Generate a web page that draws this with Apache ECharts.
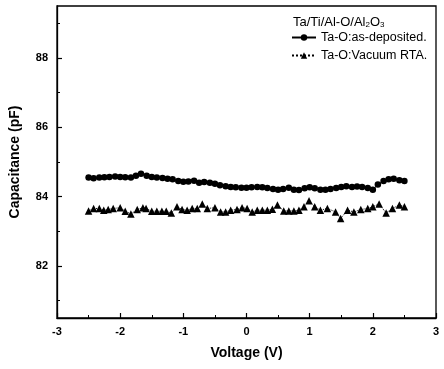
<!DOCTYPE html>
<html>
<head>
<meta charset="utf-8">
<script src="https://cdn.jsdelivr.net/npm/echarts@6/dist/echarts.min.js"></script>
<style>html,body{margin:0;padding:0;background:#fff}#c{width:444px;height:369px}</style>
</head>
<body>
<div id="c"></div>
<script>
const seriesNames = ['Ta-O:as-deposited.', 'Ta-O:Vacuum RTA.'];
const voltDep = [-2.5,-2.42,-2.33,-2.25,-2.17,-2.08,-2.0,-1.92,-1.83,-1.75,-1.67,-1.58,-1.5,-1.42,-1.33,-1.25,-1.17,-1.08,-1.0,-0.92,-0.83,-0.75,-0.67,-0.58,-0.5,-0.42,-0.33,-0.25,-0.17,-0.08,0.0,0.08,0.17,0.25,0.33,0.42,0.5,0.58,0.67,0.75,0.83,0.92,1.0,1.08,1.17,1.25,1.33,1.42,1.5,1.58,1.67,1.75,1.83,1.92,2.0,2.08,2.17,2.25,2.33,2.42,2.5];
const capDep = [84.55,84.53,84.55,84.56,84.57,84.58,84.57,84.56,84.55,84.60,84.66,84.60,84.57,84.55,84.54,84.52,84.50,84.45,84.43,84.44,84.46,84.40,84.42,84.40,84.37,84.33,84.30,84.28,84.27,84.26,84.26,84.27,84.28,84.27,84.25,84.22,84.20,84.22,84.26,84.20,84.19,84.24,84.27,84.24,84.20,84.20,84.22,84.25,84.28,84.30,84.28,84.29,84.28,84.25,84.20,84.35,84.45,84.50,84.52,84.47,84.45];
const voltRTA = [-2.5,-2.42,-2.33,-2.26,-2.19,-2.11,-2.0,-1.92,-1.83,-1.73,-1.64,-1.59,-1.5,-1.42,-1.34,-1.27,-1.19,-1.1,-1.02,-0.94,-0.86,-0.78,-0.7,-0.62,-0.5,-0.41,-0.33,-0.25,-0.15,-0.07,0.01,0.09,0.17,0.25,0.33,0.41,0.49,0.59,0.67,0.75,0.83,0.91,0.99,1.08,1.17,1.28,1.41,1.49,1.6,1.7,1.81,1.92,2.0,2.1,2.21,2.31,2.42,2.5];
const capRTA = [83.59,83.66,83.66,83.61,83.63,83.66,83.68,83.58,83.50,83.63,83.68,83.66,83.58,83.58,83.58,83.58,83.53,83.71,83.63,83.61,83.66,83.66,83.79,83.66,83.68,83.56,83.56,83.61,83.63,83.68,83.66,83.56,83.61,83.61,83.61,83.64,83.76,83.59,83.59,83.59,83.61,83.71,83.88,83.71,83.61,83.66,83.56,83.37,83.61,83.56,83.63,83.66,83.71,83.79,83.53,83.66,83.76,83.71];
const xTicks = [-3,-2,-1,0,1,2,3];
const yMajor = [82,84,86,88];
const yMinor = [81,83,85,87,89];

const zip = (a,b) => a.map((v,i)=>[v,b[i]]);
const font = '"Liberation Sans", Arial, sans-serif';
const chart = echarts.init(document.getElementById('c'), null, {renderer:'canvas'});
chart.setOption({
  animation:false,
  backgroundColor:'#fff',
  grid:{left:57,right:8,top:6,bottom:51,show:true,borderColor:'#000',borderWidth:1.3,backgroundColor:'transparent'},
  title:{
    text:'Ta/Ti/Al-O/Al{s|2}O{s|3}',
    left:288, top:10,
    textStyle:{fontFamily:font,fontSize:13,fontWeight:'normal',color:'#000',
      rich:{s:{fontFamily:font,fontSize:8,verticalAlign:'bottom',padding:[6,0,0,0],color:'#000'}}}
  },
  legend:{
    orient:'vertical', left:286, top:26, itemWidth:24, itemHeight:8, itemGap:5,
    textStyle:{fontFamily:font,fontSize:12.5,color:'#000'},
    data:seriesNames
  },
  xAxis:[{
    type:'value', min:xTicks[0], max:xTicks[xTicks.length-1], interval:1,
    name:'Voltage (V)', nameLocation:'middle', nameGap:28,
    nameTextStyle:{fontFamily:font,fontSize:14,fontWeight:'bold',color:'#000'},
    axisLine:{onZero:false,lineStyle:{color:'#000',width:1.3}},
    axisTick:{inside:true,length:5,lineStyle:{color:'#000',width:1.2}},
    minorTick:{show:true,splitNumber:2,length:3,lineStyle:{color:'#000',width:1}},
    axisLabel:{margin:8,fontFamily:font,fontSize:11,fontWeight:'bold',color:'#000'},
    splitLine:{show:false}
  }],
  yAxis:[{
    type:'value', min:80.5, max:89.5,
    name:'Capacitance (pF)', nameLocation:'middle', nameGap:35,
    nameTextStyle:{fontFamily:font,fontSize:14,fontWeight:'bold',color:'#000'},
    axisLine:{onZero:false,lineStyle:{color:'#000',width:1.3}},
    axisTick:{inside:true,length:5,customValues:yMajor,lineStyle:{color:'#000',width:1.2}},
    axisLabel:{customValues:yMajor,margin:9,fontFamily:font,fontSize:11,fontWeight:'bold',color:'#000'},
    splitLine:{show:false}
  },{
    type:'value', min:80.5, max:89.5, position:'left',
    axisLine:{show:false,onZero:false},
    axisTick:{inside:true,length:3,customValues:yMinor,lineStyle:{color:'#000',width:1}},
    axisLabel:{show:false},
    splitLine:{show:false}
  }],
  series:[{
    name:seriesNames[0], type:'line', data:zip(voltDep,capDep),
    symbol:'circle', symbolSize:6.5, showSymbol:true,
    lineStyle:{color:'#000',width:1}, itemStyle:{color:'#000'}
  },{
    name:seriesNames[1], type:'line', data:zip(voltRTA,capRTA),
    symbol:'triangle', symbolSize:7.5, showSymbol:true,
    lineStyle:{color:'#000',width:1,type:'dotted'}, itemStyle:{color:'#000'}
  }]
});
</script>
</body>
</html>
